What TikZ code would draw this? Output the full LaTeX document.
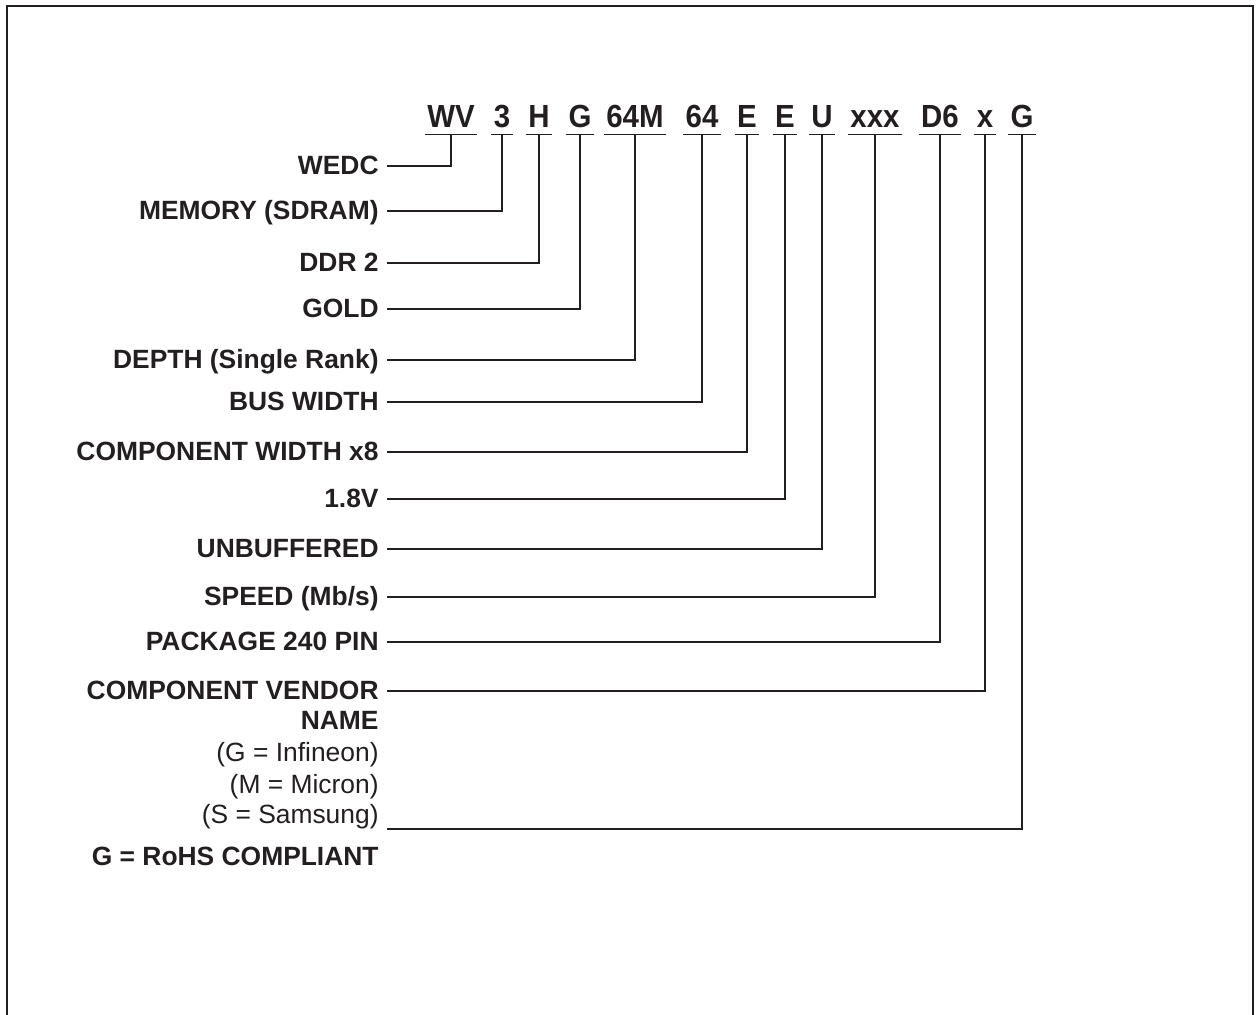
\documentclass[tikz,border=0pt]{standalone}
\usepackage{fontspec}
\setmainfont{Liberation Sans}
\newfontfamily\partfont[FakeStretch=0.92]{Liberation Sans}
\usetikzlibrary{calc}

\definecolor{ink}{RGB}{35,31,32}

\begin{document}
\begin{tikzpicture}[
        x=0.5pt, y=-0.5pt,
        code/.style={anchor=base, inner xsep=1pt, inner ysep=3pt, text depth=0pt,
            font=\partfont\fontsize{16}{18}\selectfont\bfseries, text=ink},
        field/.style={anchor=base east, inner sep=0pt,
            font=\fontsize{13.2}{15}\selectfont\bfseries, text=ink},
        note/.style={anchor=base east, inner sep=0pt,
            font=\fontsize{13.2}{15}\selectfont, text=ink},
        lead/.style={draw=ink, line width=0.6pt},
    ]
        \useasboundingbox (0,0) rectangle (1259,1015);
        \draw[ink, line width=1.2pt] (7,6) rectangle (1253,1040);

        % part number
        \node[code] (wv) at (451,128) {WV};
        \node[code] (mem) at (502,128) {3};
        \node[code] (ddr) at (539,128) {H};
        \node[code] (gold) at (580,128) {G};
        \node[code] (depth) at (635,128) {64M};
        \node[code] (bus) at (702,128) {64};
        \node[code] (comp) at (747,128) {E};
        \node[code] (volt) at (785,128) {E};
        \node[code] (unbuf) at (822,128) {U};
        \node[code] (speed) at (875,128) {xxx};
        \node[code] (pkg) at (940,128) {D6};
        \node[code] (vendor) at (985,128) {x};
        \node[code] (rohs) at (1022,128) {G};
        \foreach \c in {wv,mem,ddr,gold,depth,bus,comp,volt,unbuf,speed,pkg,vendor,rohs}
            \draw[lead] (\c.south west) -- (\c.south east);

        % fields
        \node[field] (fwedc) at (379,175) {WEDC};
        \node[field] (fmem) at (379,220) {MEMORY (SDRAM)};
        \node[field] (fddr) at (379,272) {DDR 2};
        \node[field] (fgold) at (379,318) {GOLD};
        \node[field] (fdepth) at (379,369) {DEPTH (Single Rank)};
        \node[field] (fbus) at (379,411) {BUS WIDTH};
        \node[field] (fcomp) at (379,461) {COMPONENT WIDTH x8};
        \node[field] (fvolt) at (379,508) {1.8V};
        \node[field] (funbuf) at (379,558) {UNBUFFERED};
        \node[field] (fspeed) at (379,606) {SPEED (Mb/s)};
        \node[field] (fpkg) at (379,651) {PACKAGE 240 PIN};
        \node[field] (fvendor) at (379,700) {COMPONENT VENDOR};
        \node[field] (fname) at (379,730) {NAME};
        \node[note] (vinf) at (379,762) {(G = Infineon)};
        \node[note] (vmic) at (379,793) {(M = Micron)};
        \node[note] (vsam) at (379,823) {(S = Samsung)};
        \node[field] (frohs) at (379,865) {G = RoHS COMPLIANT};

        \draw[lead] ([shift={(8,-9)}]fwedc.base east) -| (wv.south);
        \draw[lead] ([shift={(8,-9)}]fmem.base east) -| (mem.south);
        \draw[lead] ([shift={(8,-9)}]fddr.base east) -| (ddr.south);
        \draw[lead] ([shift={(8,-9)}]fgold.base east) -| (gold.south);
        \draw[lead] ([shift={(8,-9)}]fdepth.base east) -| (depth.south);
        \draw[lead] ([shift={(8,-9)}]fbus.base east) -| (bus.south);
        \draw[lead] ([shift={(8,-9)}]fcomp.base east) -| (comp.south);
        \draw[lead] ([shift={(8,-9)}]fvolt.base east) -| (volt.south);
        \draw[lead] ([shift={(8,-9)}]funbuf.base east) -| (unbuf.south);
        \draw[lead] ([shift={(8,-9)}]fspeed.base east) -| (speed.south);
        \draw[lead] ([shift={(8,-9)}]fpkg.base east) -| (pkg.south);
        \draw[lead] ([shift={(8,-9)}]fvendor.base east) -| (vendor.south);
        \draw[lead] ([shift={(8,6)}]vsam.base east) -| (rohs.south);
    \end{tikzpicture}
\end{document}
